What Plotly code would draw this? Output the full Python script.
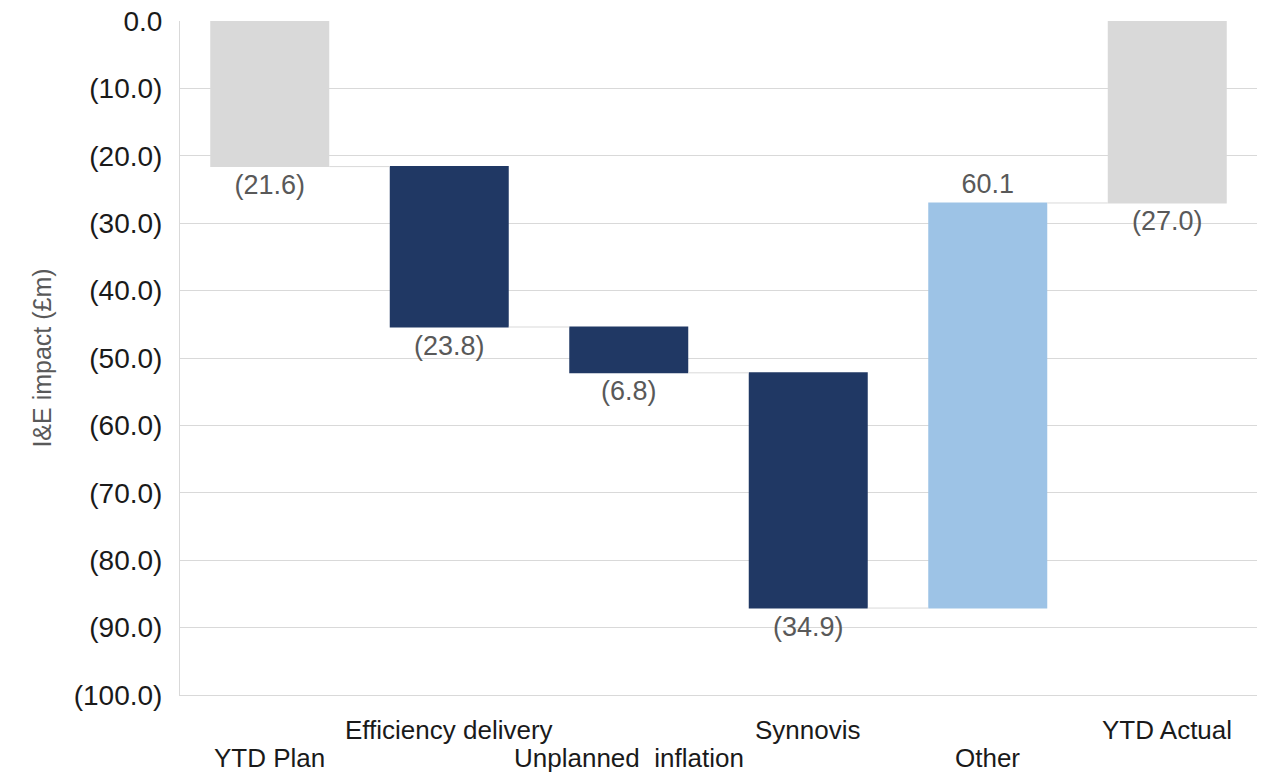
import plotly.graph_objects as go

categories = ["YTD Plan", "Efficiency delivery", "Unplanned\u00a0 inflation", "Synnovis", "Other", "YTD Actual"]
values = [-21.6, -23.8, -6.8, -34.9, 60.1, -27.0]
measures = ["absolute", "relative", "relative", "relative", "relative", "total"]
value_labels = ["(21.6)", "(23.8)", "(6.8)", "(34.9)", "60.1", "(27.0)"]
label_row = [1, 0, 1, 0, 1, 0]  # 0 = upper row, 1 = lower row (staggered category labels)

y_tickvals = [0, -10, -20, -30, -40, -50, -60, -70, -80, -90, -100]
y_ticktext = ["0.0", "(10.0)", "(20.0)", "(30.0)", "(40.0)", "(50.0)", "(60.0)", "(70.0)", "(80.0)", "(90.0)", "(100.0)"]

FONT = "Liberation Sans, Arial, sans-serif"

fig = go.Figure(go.Waterfall(
    x=categories,
    y=values,
    measure=measures,
    base=0,
    text=value_labels,
    textposition="outside",
    textfont=dict(family=FONT, size=27, color="#595959"),
    cliponaxis=False,
    decreasing=dict(marker=dict(color="#203864")),
    increasing=dict(marker=dict(color="#9DC3E6")),
    totals=dict(marker=dict(color="#D9D9D9")),
    connector=dict(mode="between", line=dict(color="#D9D9D9", width=1)),
    hoverinfo="skip",
))

row_y = [-0.052, -0.094]
for cat, row in zip(categories, label_row):
    fig.add_annotation(
        x=cat, y=row_y[row], xref="x", yref="paper",
        text=cat, showarrow=False, xanchor="center", yanchor="middle",
        font=dict(family=FONT, size=26, color="#1A1A1A"),
    )

fig.update_layout(
    width=1273, height=779,
    margin=dict(l=180, r=16, t=21, b=84),
    paper_bgcolor="white", plot_bgcolor="white",
    font=dict(family=FONT, size=26, color="#1A1A1A"),
    showlegend=False,
    waterfallgap=0.337,
)

fig.update_xaxes(
    showticklabels=False, automargin=False,
    showgrid=False, showline=True, linecolor="#D9D9D9", linewidth=1,
    ticks="",
)
fig.update_yaxes(
    range=[-100, 0], tickmode="array", tickvals=y_tickvals, ticktext=y_ticktext,
    tickfont=dict(family=FONT, size=28, color="#1A1A1A"),
    showgrid=True, gridcolor="#D9D9D9", gridwidth=1,
    zeroline=False, showline=True, linecolor="#D9D9D9", linewidth=1,
    ticks="", ticklabelstandoff=11, automargin=False,
    title=dict(text="I&E impact (£m)", font=dict(family=FONT, size=25, color="#595959"), standoff=14),
)

fig.write_html("out.html")
